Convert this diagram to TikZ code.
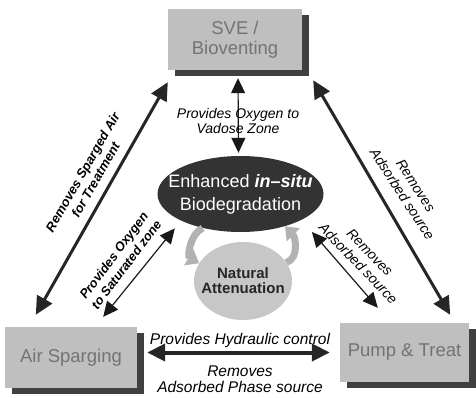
\documentclass[tikz,border=0pt]{standalone}
\usepackage{fontspec}
\setmainfont{Liberation Sans}
\usepackage{tikz}
\usetikzlibrary{positioning,shapes.geometric,shadows,arrows.meta}

\begin{document}
\begin{tikzpicture}[x=1pt,y=-1pt,
    techbox/.style={shape=rectangle,fill=black!25,text=black!55,align=center,inner sep=0pt,
      minimum width=132pt,minimum height=61pt,font=\fontsize{18.5}{20}\selectfont,
      drop shadow={shadow xshift=7pt,shadow yshift=-6pt,fill=black!75,opacity=1}},
    bigarrow/.style={{Triangle[width=17pt,length=18pt]}-{Triangle[width=17pt,length=18pt]},line width=3pt,draw=black!85},
    thinarrow/.style={{Triangle[width=14pt,length=15pt]}-{Triangle[width=14pt,length=15pt]},line width=1.2pt,draw=black!90},
    cycarrow/.style={-{Triangle[width=18pt,length=12pt]},line width=7pt,draw=black!30},
    lbl/.style={align=center,inner sep=0pt,font=\fontsize{14}{15}\selectfont\itshape},
    boldlbl/.style={lbl,font=\fontsize{13}{15}\selectfont\bfseries\itshape}]
    \useasboundingbox (0,0) rectangle (476,398);

    %%%%% THE BOXES
    \node[techbox,minimum width=134pt] (sve) at (235,39.5) {SVE /\\Bioventing};
    \node[techbox] (air) at (71,357.5) {Air Sparging};
    \node[techbox,minimum width=129pt,minimum height=59pt] (pump) at (404.5,352.5) {Pump \& Treat};

    %%%%% THE CENTRE
    \node[ellipse,fill=black!22,text=black!85,align=center,inner xsep=-10pt,inner ysep=0pt,
      minimum width=98pt,minimum height=78pt,font=\fontsize{15}{15}\selectfont\bfseries] (nat) at (243,281) {Natural\\Attenuation};
    \node[ellipse,fill=black!80,text=white,align=center,inner xsep=-20pt,inner ysep=0pt,
      minimum width=166pt,minimum height=76pt,font=\fontsize{18}{23}\selectfont] (bio) at (240.5,194)
      {Enhanced \textbf{\textit{in\textendash situ}}\\Biodegradation};
    % the cycle round natural attenuation
    \draw[cycarrow] (bio.222) to[out=205,in=150] (nat.158);
    \draw[cycarrow] (nat.23) to[out=20,in=-45] (bio.324);

    %%%%% THE LINKS
    \draw[thinarrow] ([xshift=3pt,yshift=-8pt]sve.south) -- ([xshift=-2pt,yshift=3pt]bio.north);
    \draw[bigarrow] ([shift={(31pt,12pt)}]air.north west) -- ([yshift=-12pt]sve.south west);
    \draw[bigarrow] ([shift={(11pt,-10pt)}]sve.south east) -- ([shift={(-19pt,8pt)}]pump.north east);
    \draw[bigarrow,line width=4pt] ([shift={(10pt,5pt)}]air.east) -- ([xshift=-10pt]pump.west);
    \draw[thinarrow] ([shift={(-34pt,10pt)}]air.north east) -- ([shift={(-10pt,-6pt)}]bio.207);
    \draw[thinarrow] ([shift={(17pt,-9pt)}]bio.332) -- ([shift={(38pt,15pt)}]pump.north west);

    %%%% LABELS ON THE LINKS
    \node[lbl] (vadose) at (238,121) {Provides Oxygen to\\Vadose Zone};
    \node[boldlbl,rotate=60] (sparged) at (89,176) {Removes Sparged Air\\for Treatment};
    \node[boldlbl,rotate=53,font=\fontsize{12.8}{15.5}\selectfont\bfseries\itshape] (satzone) at (120,260) {Provides Oxygen\\to Saturated zone};
    \node[lbl,rotate=-57,font=\fontsize{14}{16}\selectfont\itshape] (adsorbed) at (409,190) {Removes\\Adsorbed source};
    \node[lbl,rotate=-46,font=\fontsize{14}{16}\selectfont\itshape] (adsorbedin) at (364,258) {Removes\\Adsorbed source};
    \node[lbl,font=\fontsize{15.5}{16}\selectfont\itshape] (hydraulic) at (240,340) {Provides Hydraulic control};
    \node[lbl,font=\fontsize{15.5}{16}\selectfont\itshape] (phase) at (240,379) {Removes\\Adsorbed Phase source};
\end{tikzpicture}
\end{document}
